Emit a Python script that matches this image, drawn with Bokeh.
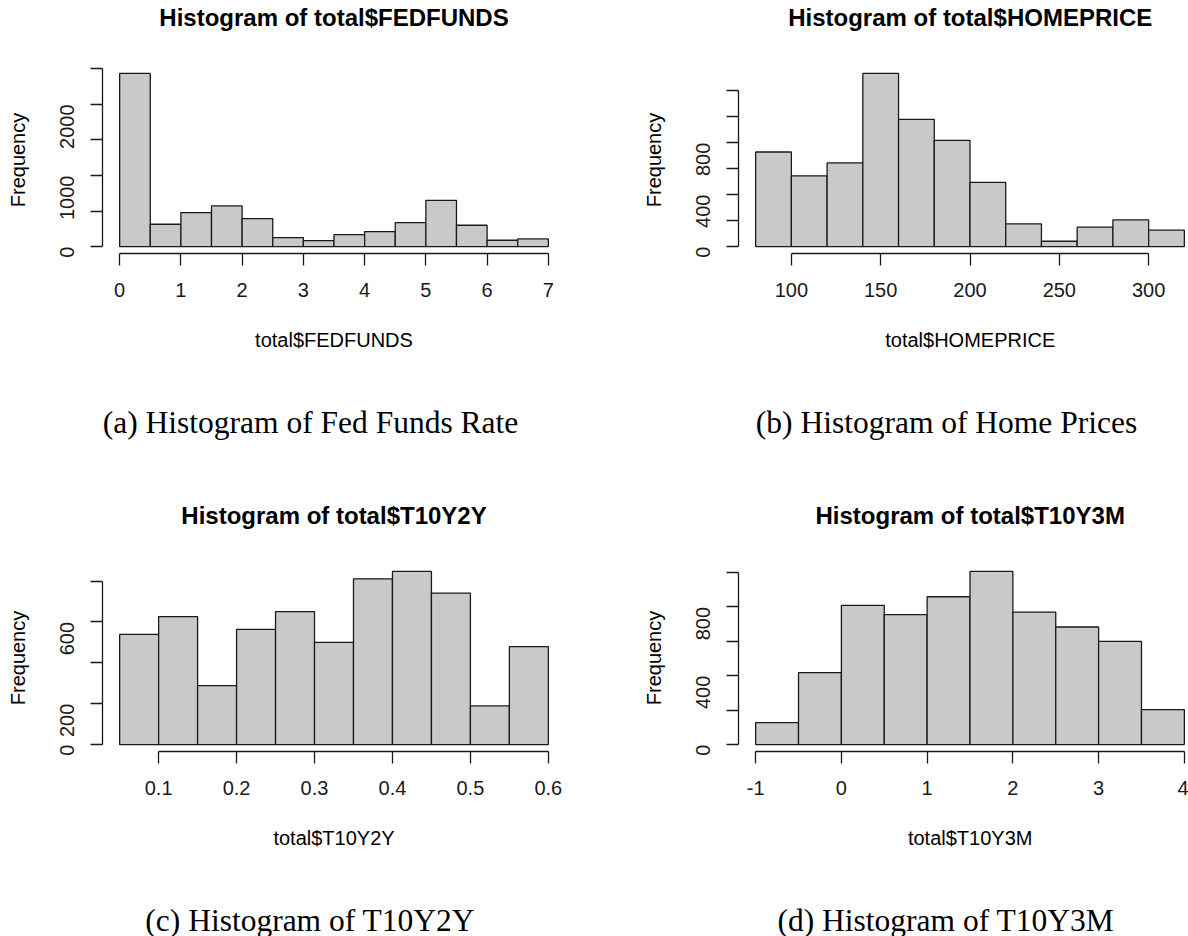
from bokeh.plotting import figure
from bokeh.models import Range1d, FixedTicker, Title, LinearAxis
from bokeh.layouts import column, row
from bokeh.core.properties import value
from bokeh.embed import file_html
from bokeh.resources import INLINE
import math

# ---------------- data: histogram bins and counts ----------------
fedfunds_edges = [0.0, 0.5, 1.0, 1.5, 2.0, 2.5, 3.0, 3.5, 4.0, 4.5, 5.0, 5.5, 6.0, 6.5, 7.0]
fedfunds_counts = [2437, 314, 478, 572, 394, 127, 84, 169, 211, 337, 651, 300, 89, 108]
fedfunds_xticks = [0, 1, 2, 3, 4, 5, 6, 7]
fedfunds_xlabels = ["0", "1", "2", "3", "4", "5", "6", "7"]
fedfunds_yticks = [0, 500, 1000, 1500, 2000, 2500]
fedfunds_ylabels = ["0", "", "1000", "", "2000", ""]

homeprice_edges = [80, 100, 120, 140, 160, 180, 200, 220, 240, 260, 280, 300, 320]
homeprice_counts = [728, 544, 644, 1333, 979, 818, 495, 174, 41, 149, 205, 126]
homeprice_xticks = [100, 150, 200, 250, 300]
homeprice_xlabels = ["100", "150", "200", "250", "300"]
homeprice_yticks = [0, 200, 400, 600, 800, 1000, 1200]
homeprice_ylabels = ["0", "", "400", "", "800", "", ""]

t10y2y_edges = [0.05, 0.10, 0.15, 0.20, 0.25, 0.30, 0.35, 0.40, 0.45, 0.50, 0.55, 0.60]
t10y2y_counts = [539, 626, 288, 564, 650, 500, 811, 847, 741, 189, 479]
t10y2y_xticks = [0.1, 0.2, 0.3, 0.4, 0.5, 0.6]
t10y2y_xlabels = ["0.1", "0.2", "0.3", "0.4", "0.5", "0.6"]
t10y2y_yticks = [0, 200, 400, 600, 800]
t10y2y_ylabels = ["0", "200", "", "600", ""]

t10y3m_edges = [-1.0, -0.5, 0.0, 0.5, 1.0, 1.5, 2.0, 2.5, 3.0, 3.5, 4.0]
t10y3m_counts = [128, 418, 809, 755, 859, 1006, 770, 683, 600, 203]
t10y3m_xticks = [-1, 0, 1, 2, 3, 4]
t10y3m_xlabels = ["-1", "0", "1", "2", "3", "4"]
t10y3m_yticks = [0, 200, 400, 600, 800, 1000]
t10y3m_ylabels = ["0", "", "400", "", "800", ""]

captions = ["(a) Histogram of Fed Funds Rate", "(b) Histogram of Home Prices",
            "(c) Histogram of T10Y2Y", "(d) Histogram of T10Y3M"]

# ---------------- styling ----------------
PAD = 0.04            # R-style 4% axis padding
PLOT_W = 463          # width of a full plotting region
PLOT_H = 187
TOP = 66
FIG_W = 594
FIG_H = 390
SANS = "Liberation Sans"
SERIF = "Liberation Serif"
BAR_FILL = "#c9c9c9"
INK = "#1a1a1a"
AXIS_FONT = "20px"
TITLE_FONT = "24px"
CAPTION_FONT = "31.5px"


def add_title(p, text, side, size, style, standoff, offset=None, valign="middle"):
    p.add_layout(Title(text=text, text_font=SANS, text_font_size=size,
                       text_font_style=style, text_color="black",
                       standoff=standoff, vertical_align=valign,
                       align="center" if offset is None else "left",
                       offset=0 if offset is None else offset), side)


def add_gap(p, side, size, at):
    # a blank axis whose single white tick only reserves space in a side panel
    p.add_layout(LinearAxis(ticker=FixedTicker(ticks=[at]), major_tick_out=size,
                            major_tick_in=0, minor_tick_out=0, minor_tick_in=0,
                            axis_line_color=None, major_tick_line_color="white",
                            minor_tick_line_color=None, major_label_standoff=0,
                            major_label_overrides={at: ""},
                            major_label_text_font_size="0px"), side)


def make_panel(edges, counts, xticks, xlabels, yticks, ylabels,
               title, xlab, left, frame_w, title_off=None, xlab_off=None):
    span = edges[-1] - edges[0]
    x0 = edges[0] - PAD * span
    x1 = x0 + (1 + 2 * PAD) * span * frame_w / PLOT_W
    ymax = max(counts)
    p = figure(width=FIG_W, height=FIG_H,
               x_range=Range1d(x0, x1),
               y_range=Range1d(-PAD * ymax, (1 + PAD) * ymax),
               output_backend="svg", toolbar_location=None,
               min_border_left=left, min_border_right=FIG_W - left - frame_w,
               min_border_top=TOP, min_border_bottom=FIG_H - TOP - PLOT_H,
               outline_line_color=None, background_fill_color="white",
               border_fill_color="white")
    p.grid.visible = False

    p.quad(left=edges[:-1], right=edges[1:], bottom=0, top=counts,
           fill_color=BAR_FILL, line_color=INK, line_width=1.3)

    xa = p.xaxis[0]
    xa.ticker = FixedTicker(ticks=xticks)
    xa.major_label_overrides = {t: s for t, s in zip(xticks, xlabels)}
    xa.bounds = (xticks[0], xticks[-1])
    xa.major_label_standoff = 17
    ya = p.yaxis[0]
    ya.ticker = FixedTicker(ticks=yticks)
    ya.major_label_overrides = {t: s for t, s in zip(yticks, ylabels)}
    ya.bounds = (yticks[0], yticks[-1])
    ya.major_label_orientation = math.pi / 2
    ya.major_label_standoff = 23

    for ax in (xa, ya):
        ax.axis_line_color = INK
        ax.axis_line_width = 1.3
        ax.major_tick_line_color = INK
        ax.major_tick_line_width = 1.3
        ax.major_tick_out = 12
        ax.major_tick_in = 0
        ax.minor_tick_line_color = None
        ax.major_label_text_font = SANS
        ax.major_label_text_font_size = AXIS_FONT
        ax.major_label_text_color = INK

    add_gap(p, "above", 33, x0)
    add_title(p, title, "above", TITLE_FONT, "bold", 4, title_off)
    add_title(p, xlab, "below", AXIS_FONT, "normal", 58, xlab_off, valign="top")
    add_gap(p, "left", 17, -PAD * ymax)
    add_title(p, "Frequency", "left", AXIS_FONT, "normal", 7)
    return p


def make_caption(text, cx, cy, height):
    c = figure(width=FIG_W, height=height, x_range=Range1d(0, FIG_W),
               y_range=Range1d(0, height), output_backend="svg",
               toolbar_location=None, x_axis_location=None, y_axis_location=None,
               min_border=0, outline_line_color=None)
    c.grid.visible = False
    c.text(x=[cx], y=[height - cy], text=[text], text_align="center",
           text_baseline="middle", text_font=value(SERIF),
           text_font_size=CAPTION_FONT, text_color="black")
    return c


pa = make_panel(fedfunds_edges, fedfunds_counts, fedfunds_xticks, fedfunds_xlabels,
                fedfunds_yticks, fedfunds_ylabels,
                "Histogram of total$FEDFUNDS", "total$FEDFUNDS", 102, PLOT_W)
pb = make_panel(homeprice_edges, homeprice_counts, homeprice_xticks, homeprice_xlabels,
                homeprice_yticks, homeprice_ylabels,
                "Histogram of total$HOMEPRICE", "total$HOMEPRICE", 144, 450,
                title_off=49.7, xlab_off=146.7)
pc = make_panel(t10y2y_edges, t10y2y_counts, t10y2y_xticks, t10y2y_xlabels,
                t10y2y_yticks, t10y2y_ylabels,
                "Histogram of total$T10Y2Y", "total$T10Y2Y", 102, PLOT_W)
pd_ = make_panel(t10y3m_edges, t10y3m_counts, t10y3m_xticks, t10y3m_xlabels,
                 t10y3m_yticks, t10y3m_ylabels,
                 "Histogram of total$T10Y3M", "total$T10Y3M", 144, 450,
                 title_off=77.0, xlab_off=169.4)

cap_a = make_caption(captions[0], 310, 31.7, 108)
cap_b = make_caption(captions[1], 352, 31.7, 108)
cap_c = make_caption(captions[2], 309.7, 31.5, 48)
cap_d = make_caption(captions[3], 351.4, 31.5, 48)

layout = column(row(pa, pb), row(cap_a, cap_b), row(pc, pd_), row(cap_c, cap_d))

with open("out.html", "w") as f:
    f.write(file_html(layout, INLINE))
